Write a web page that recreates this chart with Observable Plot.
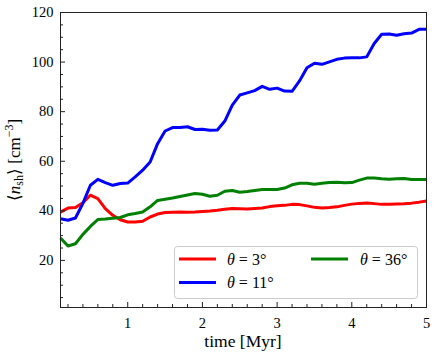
<!DOCTYPE html>
<html><head><meta charset="utf-8">
<script src="https://cdn.jsdelivr.net/npm/d3@7"></script>
<script src="https://cdn.jsdelivr.net/npm/@observablehq/plot@0.6"></script>
<style>
body{margin:0;background:#fff;}
#wrap{position:relative;width:436px;height:358px;}
#wrap svg{display:block;}
</style></head><body><div id="wrap"></div>
<script>
const time = [0.1,0.2,0.3,0.4,0.5,0.6,0.7,0.8,0.9,1.0,1.1,1.2,1.3,1.4,1.5,1.6,1.7,1.8,1.9,2.0,2.1,2.2,2.3,2.4,2.5,2.6,2.7,2.8,2.9,3.0,3.1,3.2,3.3,3.4,3.5,3.6,3.7,3.8,3.9,4.0,4.1,4.2,4.3,4.4,4.5,4.6,4.7,4.8,4.9,5.0];
const theta3 = [39.5,41.1,41.3,43.3,46.3,44.9,40.9,38.2,36.4,35.5,35.5,35.8,37.5,38.7,39.3,39.4,39.5,39.4,39.5,39.7,39.9,40.2,40.6,40.9,40.8,40.7,40.9,41.1,41.7,42.0,42.2,42.6,42.5,42.0,41.4,41.1,41.3,41.6,42.2,42.7,43.0,43.2,42.9,42.6,42.7,42.8,42.9,43.1,43.5,44.0];
const theta11 = [36.8,36.2,37.1,43.0,50.3,52.7,51.4,50.3,51.0,51.2,53.7,56.4,59.7,67.1,72.2,73.6,73.6,73.9,72.8,72.9,72.5,72.6,76.2,82.6,86.7,87.6,88.5,90.2,89.0,89.5,88.3,88.2,92.4,97.7,99.5,99.1,100.1,101.1,101.6,101.7,101.7,102.1,107.5,111.2,111.3,110.8,111.4,111.7,113.2,113.2];
const theta36 = [29.0,25.8,26.7,30.5,33.7,36.5,36.7,37.0,37.3,38.4,38.9,39.5,41.6,44.2,44.7,45.2,45.8,46.4,47.0,46.7,45.9,46.3,47.9,48.2,47.5,47.8,48.2,48.6,48.6,48.6,49.2,50.5,51.1,51.1,50.7,51.1,51.4,51.5,51.3,51.4,52.4,53.2,53.2,52.9,52.7,52.9,53.0,52.6,52.6,52.6];
const seriesNames = ["θ = 3°","θ = 11°","θ = 36°"];
const seriesColors = ["#ff0000","#0000ff","#008000"];
const xMajor = [1,2,3,4,5];
const xMinor = [0.2,0.4,0.6,0.8,1.2,1.4,1.6,1.8,2.2,2.4,2.6,2.8,3.2,3.4,3.6,3.8,4.2,4.4,4.6,4.8];
const yMajor = [20,40,60,80,100,120];
const yMinor = [5,10,15,25,30,35,45,50,55,65,70,75,85,90,95,105,110,115];

const seriesValues = [theta3, theta11, theta36];
const rows = [];
seriesValues.forEach((vals, k) => vals.forEach((v, i) => rows.push({t: time[i], v, series: seriesNames[k]})));

const font = "'Times New Roman', Times, serif";
const plot = Plot.plot({
  width: 436, height: 358,
  marginLeft: 60, marginRight: 10, marginTop: 12, marginBottom: 51,
  style: `font-family: ${font}; font-size: 14.5px; color: #000; background: #fff; font-weight: normal;`,
  x: {domain: [0.1, 5]},
  y: {domain: [1, 120]},
  color: {domain: seriesNames, range: seriesColors},
  marks: [
    Plot.line(rows, {x: "t", y: "v", z: "series", stroke: "series", strokeWidth: 3, strokeLinejoin: "round", strokeLinecap: "butt"}),
    Plot.frame({stroke: "#222", strokeWidth: 1}),
    Plot.axisX({ticks: xMajor, tickSize: 0, tickPadding: 10, label: null, tickFormat: d => String(d)}),
    Plot.axisX({ticks: xMajor, tickSize: -5, tickFormat: () => "", label: null, stroke: "#222"}),
    Plot.axisX({ticks: xMinor, tickSize: -3, tickFormat: () => "", label: null, stroke: "#222"}),
    Plot.axisY({ticks: yMajor, tickSize: 0, tickPadding: 7, label: null, tickFormat: d => String(d)}),
    Plot.axisY({ticks: yMajor, tickSize: -5, tickFormat: () => "", label: null, stroke: "#222"}),
    Plot.axisY({ticks: yMinor, tickSize: -3, tickFormat: () => "", label: null, stroke: "#222"})
  ]
});
document.getElementById("wrap").appendChild(plot);

const svg = d3.select(plot);
// x label
svg.append("text").attr("x", 243).attr("y", 347).attr("text-anchor", "middle")
  .style("font-family", font).style("font-size", "17.5px").style("font-weight", "normal").attr("fill", "#000").text("time [Myr]");
// y label with subscript / superscript
const yl = svg.append("text").attr("transform", "translate(20,160) rotate(-90)")
  .attr("text-anchor", "middle").style("font-family", font).style("font-size", "17px").style("font-weight", "normal").attr("fill", "#000");
yl.append("tspan").text("⟨");
yl.append("tspan").style("font-style", "italic").text("n");
yl.append("tspan").style("font-size", "12px").attr("dy", 3).text("sh");
yl.append("tspan").attr("dy", -3).text("⟩ [cm");
yl.append("tspan").style("font-size", "12px").attr("dy", -7).text("−3");
yl.append("tspan").attr("dy", 7).text("]");

// legend
const lg = svg.append("g").attr("text-anchor", "start").style("font-family", font).style("font-size", "16px").style("font-weight", "normal");
lg.append("rect").attr("x", 174.5).attr("y", 246.5).attr("width", 243).attr("height", 52)
  .attr("rx", 3).attr("fill", "#fff").attr("fill-opacity", 0.8).attr("stroke", "#ccc");
const entries = [
  {i: 0, lx: 179, ly: 259, tx: 227},
  {i: 1, lx: 179, ly: 282.5, tx: 227},
  {i: 2, lx: 311, ly: 259, tx: 360}
];
for (const e of entries) {
  lg.append("line").attr("x1", e.lx).attr("x2", e.lx + 37).attr("y1", e.ly).attr("y2", e.ly)
    .attr("stroke", seriesColors[e.i]).attr("stroke-width", 3);
  const label = seriesNames[e.i];
  const t = lg.append("text").attr("x", e.tx).attr("y", e.ly + 5.5).attr("fill", "#000");
  t.append("tspan").style("font-style", "italic").text(label[0]);
  t.append("tspan").text(label.slice(1));
}
</script></body></html>
